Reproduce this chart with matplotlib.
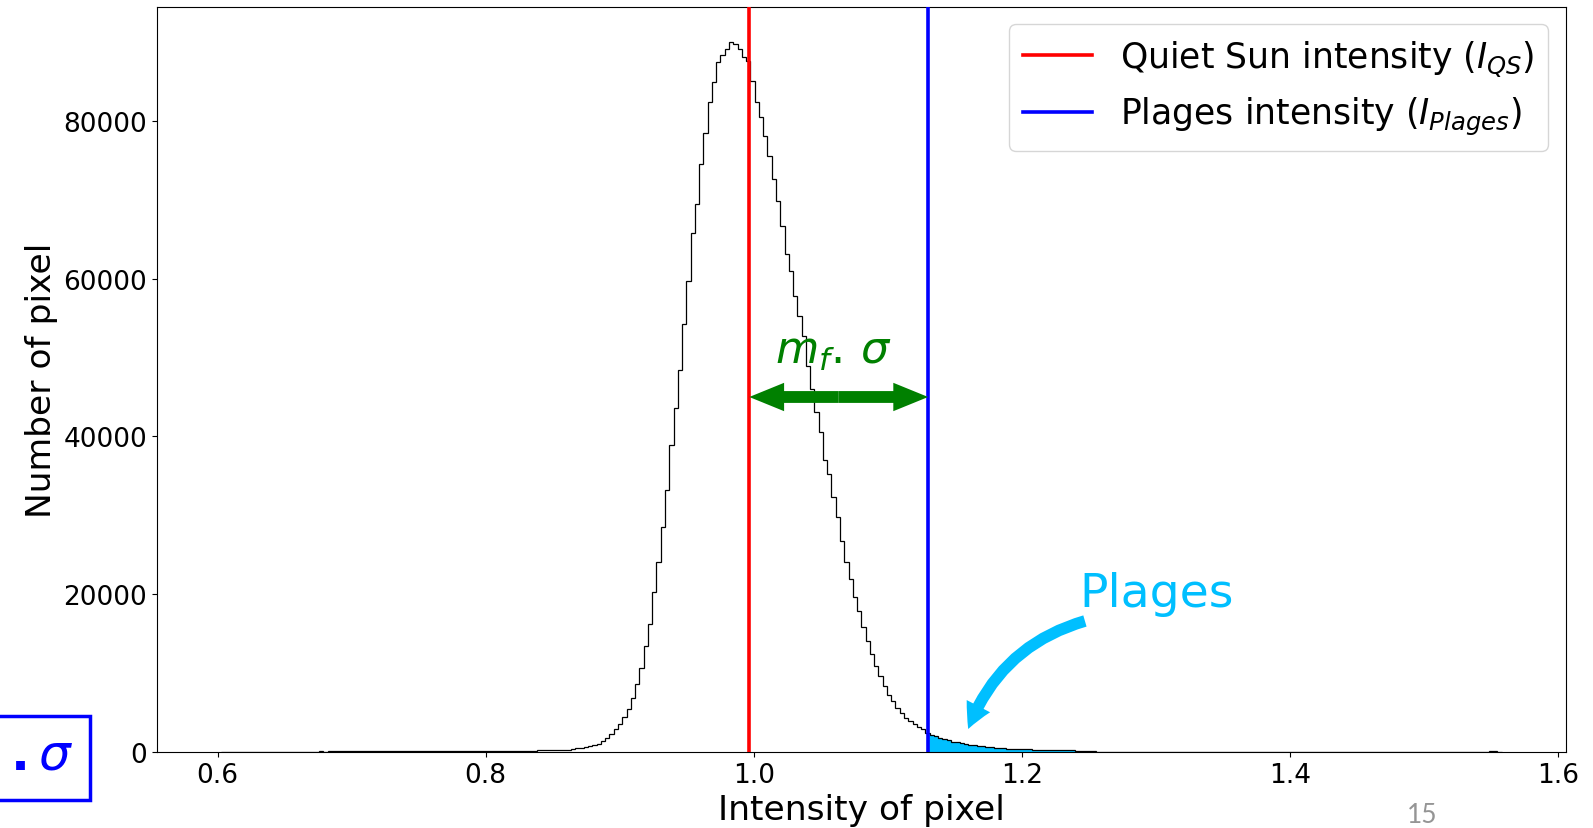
import numpy as np
import matplotlib
matplotlib.use("Agg")
import matplotlib.pyplot as plt
from matplotlib.patches import Rectangle, FancyArrowPatch

# ---------------- data ----------------
hist_min = 0.6025
hist_max = 1.5582
counts = [
    # 0-19
    0, 0, 0, 0, 0, 0, 0, 0, 0, 0, 0, 0, 0, 0, 0, 0, 15, 25, 20, 10,
    # 20-39
    30, 35, 30, 40, 35, 40, 45, 40, 45, 50, 45, 50, 55, 50, 55, 60, 55, 60, 65, 60,
    # 40-59
    65, 70, 65, 70, 75, 70, 75, 80, 75, 80, 85, 80, 85, 90, 90, 95, 95, 100, 100, 105,
    # 60-79
    110, 110, 115, 120, 120, 125, 130, 130, 135, 140, 145, 150, 155, 160, 165, 170, 175, 180, 190, 200,
    # 80-90
    220, 280, 350, 430, 520, 620, 740, 880, 1050, 1340, 1750,
    # 91-111
    2220, 2920, 3560, 4440, 5430, 6780, 8650, 10690, 13440, 16250, 20220,
    24020, 28520, 33190, 38920, 43600, 48390, 54230, 59670, 65745, 69430,
    # 112-123
    74510, 78490, 82460, 84910, 87540, 88420, 89180, 89970, 89760, 89130, 88070, 87650,
    # 124-138
    85100, 82360, 80460, 78130, 75600, 72630, 69880, 66710, 63120, 61010, 57840, 55300, 52770, 48960, 46000,
    # 139-154
    43050, 40510, 37000, 35220, 32260, 29720, 26760, 24020, 21900, 19580, 17890, 15770, 14080, 12390, 10910, 9650,
    # 155-164
    8380, 7250, 6400, 5600, 4900, 4350, 3900, 3500, 3200, 2950,
    # 165-184
    2400, 2150, 1950, 1750, 1600, 1450, 1300, 1180, 1070, 980, 890, 810, 740, 680, 620, 565, 515, 470, 430, 400,
    # 185-204
    380, 360, 340, 320, 300, 285, 270, 255, 240, 228, 215, 203, 192, 182, 172, 163, 155, 147, 45, 40,
    # 205-224
    38, 36, 34, 32, 30, 29, 28, 27, 26, 25, 24, 23, 22, 21, 20, 19, 18, 17, 16, 15,
    # 225-244
    15, 14, 14, 13, 13, 12, 12, 11, 11, 10, 10, 9, 9, 9, 8, 8, 8, 7, 7, 7,
    # 245-264
    6, 6, 6, 6, 5, 5, 5, 5, 5, 4, 4, 4, 4, 4, 4, 3, 3, 3, 3, 3,
    # 265-284
    3, 3, 3, 2, 2, 2, 2, 2, 2, 2, 2, 2, 1, 1, 1, 1, 1, 1, 1, 1,
    # 285-299
    1, 1, 1, 1, 1, 1, 1, 1, 1, 1, 1, 1, 110, 140, 20,
]
I_qs = 0.9967
I_plages = 1.1302
plage_fill_end = 1.2458
mf_arrow_y = 45000
legend_labels = [r"Quiet Sun intensity ($I_{QS}$)", r"Plages intensity ($I_{Plages}$)"]
x_ticks = [0.6, 0.8, 1.0, 1.2, 1.4, 1.6]
y_ticks = [0, 20000, 40000, 60000, 80000]
x_label = "Intensity of pixel"
y_label = "Number of pixel"
plages_text = "Plages"
mf_text = r"$m_f.\,\sigma$"
box_text = r"$\mathbf{.}\sigma$"
page_number = "15"

PLAGE_COLOR = "#00bfff"

# ---------------- figure ----------------
W, H = 1593, 829
fig = plt.figure(figsize=(W / 100, H / 100), dpi=100)
ax = fig.add_axes([157 / W, 1 - 752.8 / H, (1565.7 - 157) / W, (752.8 - 8.1) / H])

edges = np.linspace(hist_min, hist_max, len(counts) + 1)
cnt = np.asarray(counts, dtype=float)

# plage fill
inside = edges[(edges > I_plages) & (edges < plage_fill_end)]
xs = np.concatenate([[I_plages], inside, [plage_fill_end]])
idx = np.clip(np.searchsorted(edges, xs, side="right") - 1, 0, len(cnt) - 1)
ax.fill_between(xs, cnt[idx], step="post", color=PLAGE_COLOR, lw=0, zorder=2)

ax.stairs(cnt, edges, color="black", lw=0.9, zorder=3)

ax.axvline(I_qs, color="red", lw=2.6, label=legend_labels[0], zorder=4)
ax.axvline(I_plages, color="blue", lw=2.6, label=legend_labels[1], zorder=4)

ax.set_xlim(0.5547, 1.606)
ax.set_ylim(0, 94450)
ax.set_xticks(x_ticks)
ax.set_xticklabels([f"{t:.1f}" for t in x_ticks])
ax.set_yticks(y_ticks)
ax.tick_params(labelsize=19)
ax.set_xlabel(x_label, fontsize=24.8)
ax.set_ylabel(y_label, fontsize=24.8)

ax.legend(loc="upper right", fontsize=24.9)

# double arrow m_f . sigma
mid = 0.5 * (I_qs + I_plages)
for end in (I_qs, I_plages):
    ax.arrow(mid, mf_arrow_y, end - mid, 0, width=1500, head_width=3600,
             head_length=0.026, length_includes_head=True, color="green",
             lw=0, zorder=5)
ax.text(1.016, 49400, mf_text, color="green", fontsize=32, ha="left", va="baseline", zorder=5)

# Plages label and curved arrow
ax.text(1.243, 18430, plages_text, color=PLAGE_COLOR, fontsize=34, ha="left", va="baseline")
arr = FancyArrowPatch((1.2472, 16590), (1.1601, 2890),
                      connectionstyle="arc3,rad=0.25",
                      arrowstyle="simple,head_length=0.9,head_width=0.95,tail_width=0.42",
                      mutation_scale=20, color=PLAGE_COLOR, lw=0, shrinkA=0, shrinkB=0,
                      zorder=5)
ax.add_patch(arr)

# slide decorations: partial blue box bottom-left and page number
fig.add_artist(Rectangle((-0.02, 1 - 801 / H), (90 + 0.02 * W) / W, (801 - 716.7) / H,
                         transform=fig.transFigure, fill=False, edgecolor="blue", lw=2.5))
fig.text(74 / W, 1 - 770 / H, box_text, color="blue", fontsize=36,
         ha="right", va="baseline")
fig.text(1422 / W, 1 - 816 / H, page_number, color="#959595", fontsize=19,
         ha="center", va="center", family="Lato")

fig.savefig("out.png", dpi=100)
